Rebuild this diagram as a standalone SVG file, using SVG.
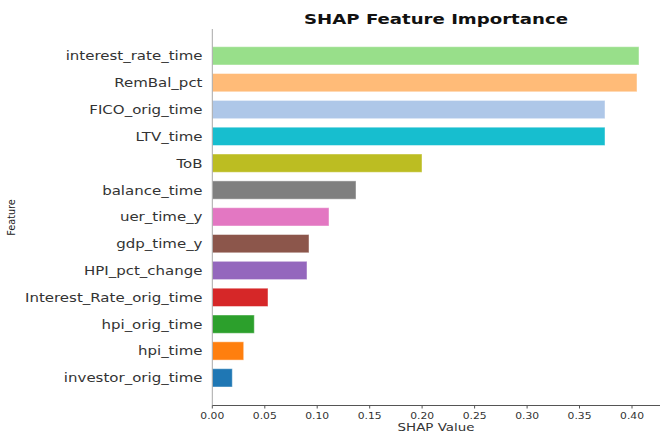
<svg xmlns="http://www.w3.org/2000/svg" width="660" height="435" viewBox="0 0 660 435">
  <style>
    text { font-family: "DejaVu Sans", "Liberation Sans", sans-serif; fill: #333; }
    .title { font-size: 14.5px; font-weight: bold; fill: #111; text-anchor: middle; }
    .ylab { font-size: 12.3px; text-anchor: end; }
    .tick { font-size: 8.6px; text-anchor: middle; }
    .axlab { font-size: 11px; text-anchor: middle; }
    .bar { stroke: #ffffff; stroke-opacity: 0.45; stroke-width: 1; }
    .spine { stroke-width: 1; fill: none; }
    .tickmark { stroke: #555; stroke-width: 1; }
  </style>

  <rect x="0" y="0" width="660" height="435" fill="#ffffff"/>

  <!-- title -->
  <text class="title" transform="translate(436,24) scale(1.25,1)">SHAP Feature Importance</text>

  <!-- bars, one row per feature (x: 0.00 at 212.3, 1049 px per unit) -->
  <g id="bar-interest_rate_time">
    <rect class="bar" x="212.3" y="46.7" width="426.7" height="18.3" fill="#98df8a"/>
    <text class="ylab" transform="translate(202.5,60.3) scale(1.22,1)">interest_rate_time</text>
  </g>
  <g id="bar-RemBal_pct">
    <rect class="bar" x="212.3" y="73.5" width="424.7" height="18.3" fill="#ffbb78"/>
    <text class="ylab" transform="translate(202.5,87.1) scale(1.22,1)">RemBal_pct</text>
  </g>
  <g id="bar-FICO_orig_time">
    <rect class="bar" x="212.3" y="100.4" width="392.7" height="18.3" fill="#aec7e8"/>
    <text class="ylab" transform="translate(202.5,114.0) scale(1.22,1)">FICO_orig_time</text>
  </g>
  <g id="bar-LTV_time">
    <rect class="bar" x="212.3" y="127.2" width="392.7" height="18.3" fill="#17becf"/>
    <text class="ylab" transform="translate(202.5,140.8) scale(1.22,1)">LTV_time</text>
  </g>
  <g id="bar-ToB">
    <rect class="bar" x="212.3" y="154.0" width="209.7" height="18.3" fill="#bcbd22"/>
    <text class="ylab" transform="translate(202.5,167.6) scale(1.22,1)">ToB</text>
  </g>
  <g id="bar-balance_time">
    <rect class="bar" x="212.3" y="180.9" width="143.7" height="18.3" fill="#7f7f7f"/>
    <text class="ylab" transform="translate(202.5,194.5) scale(1.22,1)">balance_time</text>
  </g>
  <g id="bar-uer_time_y">
    <rect class="bar" x="212.3" y="207.7" width="116.7" height="18.3" fill="#e377c2"/>
    <text class="ylab" transform="translate(202.5,221.3) scale(1.22,1)">uer_time_y</text>
  </g>
  <g id="bar-gdp_time_y">
    <rect class="bar" x="212.3" y="234.5" width="96.7" height="18.3" fill="#8c564b"/>
    <text class="ylab" transform="translate(202.5,248.1) scale(1.22,1)">gdp_time_y</text>
  </g>
  <g id="bar-HPI_pct_change">
    <rect class="bar" x="212.3" y="261.3" width="94.7" height="18.3" fill="#9467bd"/>
    <text class="ylab" transform="translate(202.5,274.9) scale(1.22,1)">HPI_pct_change</text>
  </g>
  <g id="bar-Interest_Rate_orig_time">
    <rect class="bar" x="212.3" y="288.2" width="55.7" height="18.3" fill="#d62728"/>
    <text class="ylab" transform="translate(202.5,301.8) scale(1.22,1)">Interest_Rate_orig_time</text>
  </g>
  <g id="bar-hpi_orig_time">
    <rect class="bar" x="212.3" y="315.0" width="42.0" height="18.3" fill="#2ca02c"/>
    <text class="ylab" transform="translate(202.5,328.6) scale(1.22,1)">hpi_orig_time</text>
  </g>
  <g id="bar-hpi_time">
    <rect class="bar" x="212.3" y="341.8" width="31.4" height="18.3" fill="#ff7f0e"/>
    <text class="ylab" transform="translate(202.5,355.4) scale(1.22,1)">hpi_time</text>
  </g>
  <g id="bar-investor_orig_time">
    <rect class="bar" x="212.3" y="368.7" width="20.0" height="18.3" fill="#1f77b4"/>
    <text class="ylab" transform="translate(202.5,382.3) scale(1.22,1)">investor_orig_time</text>
  </g>

  <!-- axes -->
  <g id="axes">
    <line class="spine" x1="212.3" y1="29" x2="212.3" y2="405.5" stroke="#a8a8a8"/>
    <line class="spine" x1="212.3" y1="405.5" x2="660" y2="405.5" stroke="#555"/>
    <g id="x-ticks">
      <line class="tickmark" x1="212.3" y1="405.5" x2="212.3" y2="408.5"/>
      <line class="tickmark" x1="264.8" y1="405.5" x2="264.8" y2="408.5"/>
      <line class="tickmark" x1="317.2" y1="405.5" x2="317.2" y2="408.5"/>
      <line class="tickmark" x1="369.7" y1="405.5" x2="369.7" y2="408.5"/>
      <line class="tickmark" x1="422.1" y1="405.5" x2="422.1" y2="408.5"/>
      <line class="tickmark" x1="474.6" y1="405.5" x2="474.6" y2="408.5"/>
      <line class="tickmark" x1="527.1" y1="405.5" x2="527.1" y2="408.5"/>
      <line class="tickmark" x1="579.5" y1="405.5" x2="579.5" y2="408.5"/>
      <line class="tickmark" x1="632.0" y1="405.5" x2="632.0" y2="408.5"/>
      <text class="tick" transform="translate(212.3,418.5) scale(1.25,1)">0.00</text>
      <text class="tick" transform="translate(264.8,418.5) scale(1.25,1)">0.05</text>
      <text class="tick" transform="translate(317.2,418.5) scale(1.25,1)">0.10</text>
      <text class="tick" transform="translate(369.7,418.5) scale(1.25,1)">0.15</text>
      <text class="tick" transform="translate(422.1,418.5) scale(1.25,1)">0.20</text>
      <text class="tick" transform="translate(474.6,418.5) scale(1.25,1)">0.25</text>
      <text class="tick" transform="translate(527.1,418.5) scale(1.25,1)">0.30</text>
      <text class="tick" transform="translate(579.5,418.5) scale(1.25,1)">0.35</text>
      <text class="tick" transform="translate(632.0,418.5) scale(1.25,1)">0.40</text>
    </g>
    <text class="axlab" transform="translate(436,431) scale(1.22,1)">SHAP Value</text>
    <text class="axlab" style="font-size:10.5px; fill:#222" transform="translate(14.8,217.5) rotate(-90) scale(0.92,1)">Feature</text>
  </g>
</svg>
